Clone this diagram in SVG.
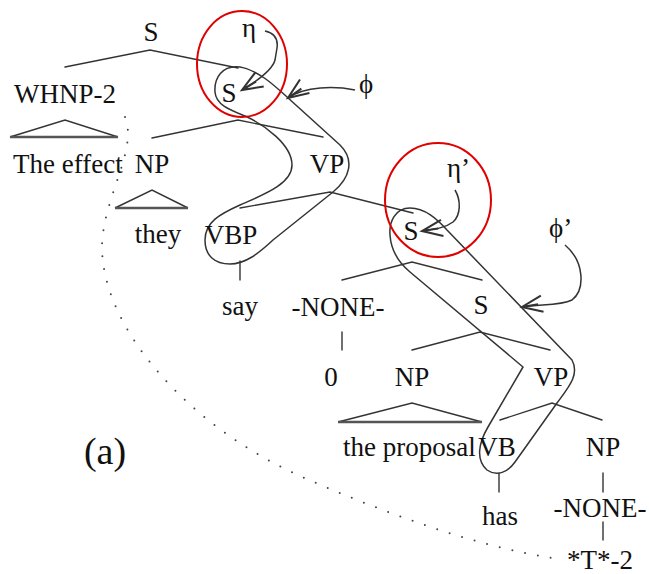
<svg xmlns="http://www.w3.org/2000/svg" width="649" height="574" viewBox="0 0 649 574">
  <style>
    .lbl { font-family: "Liberation Serif", "Times New Roman", serif; font-size: 27px; fill: #111; }
    .mid { text-anchor: middle; }
    .edge { fill: none; stroke: #333; stroke-width: 1.4; stroke-linecap: round; }
    .tri { fill: none; stroke: #333; stroke-width: 1.4; stroke-linejoin: miter; }
    .base { stroke: #555; stroke-width: 2.4; }
    .loop { fill: none; stroke: #333; stroke-width: 1.5; stroke-linejoin: round; }
    .ring { fill: none; stroke: #e00000; stroke-width: 2; }
    .link { fill: none; stroke: #333; stroke-width: 1.5; marker-end: url(#open); }
    .trace { fill: none; stroke: #444; stroke-width: 2; stroke-dasharray: 0 13; stroke-linecap: round; }
  </style>
  <defs>
    <marker id="open" markerUnits="userSpaceOnUse" markerWidth="30" markerHeight="30" viewBox="-20 -10 22 20" refX="0" refY="0" orient="auto" overflow="visible">
      <path d="M -15,-6 L 0,0 L -15,6 M -12,0 L 0,0" fill="none" stroke="#333" stroke-width="1.5"/>
    </marker>
  </defs>

  <!-- tree branches -->
  <g id="connectors">
    <polyline class="edge" points="65,67 150,50 238,68"/>
    <polyline class="edge" points="152,138 238,120 323,137"/>
    <polyline class="edge" points="240,208 330,192 413,213"/>
    <polyline class="edge" points="342,280 412,262 482,280"/>
    <polyline class="edge" points="412,350 480,332 550,350"/>
    <polyline class="edge" points="500,420 552,403 602,420"/>
    <line class="edge" x1="240" y1="261" x2="240" y2="280"/>
    <line class="edge" x1="342" y1="332" x2="342" y2="350"/>
    <line class="edge" x1="499" y1="473" x2="499" y2="492"/>
    <line class="edge" x1="603" y1="473" x2="603" y2="492"/>
    <line class="edge" x1="603" y1="522" x2="603" y2="540"/>
    <!-- trace link from WHNP-2 to *T*-2 -->
    <path class="trace" d="M125,117 C138,150 104,195 102,245 C101,330 192,428 300,476 C380,511 470,545 552,558"/>
  </g>

  <!-- collapsed triangles -->
  <g id="tri-whnp">
    <polyline class="tri" points="10,137 65,120 118,137"/>
    <line class="tri base" x1="10" y1="137" x2="118" y2="137"/>
  </g>
  <g id="tri-they">
    <polyline class="tri" points="115,208 152,190 188,208"/>
    <line class="tri base" x1="115" y1="208" x2="188" y2="208"/>
  </g>
  <g id="tri-proposal">
    <polyline class="tri" points="338,422 412,403 482,422"/>
    <line class="tri base" x1="338" y1="422" x2="482" y2="422"/>
  </g>

  <!-- spine contours -->
  <g id="spine-1">
    <path class="loop" d="M240,67 C222,65 214,78 215,92 C216,105 230,110 245,116 C265,125 292,145 292,165 C292,185 260,196 240,205 C220,214 205,222 205,240 C205,256 215,264 230,264 C245,264 258,254 273,240 L333,192 C350,178 355,160 340,145 L287,97 C275,86 258,70 240,67 Z"/>
  </g>
  <g id="spine-2">
    <path class="loop" d="M410,208 C395,208 389,222 390,235 C391,250 398,262 410,272 L523,367 L488,427 C478,444 476,460 487,470 C497,477 508,472 515,462 L557,403 C568,388 580,375 572,360 L447,230 C437,219 425,208 410,208 Z"/>
  </g>

  <!-- nodes -->
  <g id="n-s-root"><text class="lbl mid" x="151" y="41">S</text></g>
  <g id="n-whnp"><text class="lbl" x="14" y="103">WHNP-2</text></g>
  <g id="n-the-effect"><text class="lbl" x="13" y="173">The effect</text></g>
  <g id="n-s1"><text class="lbl mid" x="229" y="102">S</text></g>
  <g id="n-np1"><text class="lbl mid" x="152" y="173">NP</text></g>
  <g id="n-vp1"><text class="lbl mid" x="327" y="173">VP</text></g>
  <g id="n-they"><text class="lbl mid" x="158" y="243">they</text></g>
  <g id="n-vbp"><text class="lbl mid" x="231" y="244">VBP</text></g>
  <g id="n-say"><text class="lbl mid" x="240" y="315">say</text></g>
  <g id="n-s2"><text class="lbl mid" x="411" y="240">S</text></g>
  <g id="n-none1"><text class="lbl mid" x="338" y="316">-NONE-</text></g>
  <g id="n-zero"><text class="lbl mid" x="331" y="386">0</text></g>
  <g id="n-s3"><text class="lbl mid" x="481" y="314">S</text></g>
  <g id="n-np2"><text class="lbl mid" x="412" y="386">NP</text></g>
  <g id="n-vp2"><text class="lbl mid" x="551" y="386">VP</text></g>
  <g id="n-proposal"><text class="lbl" x="343" y="456">the proposal</text></g>
  <g id="n-vb"><text class="lbl mid" x="497" y="456">VB</text></g>
  <g id="n-np3"><text class="lbl mid" x="603" y="456">NP</text></g>
  <g id="n-has"><text class="lbl mid" x="500" y="525">has</text></g>
  <g id="n-none2"><text class="lbl mid" x="600" y="517">-NONE-</text></g>
  <g id="n-trace"><text class="lbl mid" x="600" y="569">*T*-2</text></g>
  <g id="caption"><text class="lbl mid" x="105" y="464" style="font-size:38px">(a)</text></g>

  <!-- highlighted roots -->
  <g id="ring-1"><ellipse class="ring" cx="242" cy="64" rx="45" ry="53"/></g>
  <g id="ring-2"><ellipse class="ring" cx="438" cy="200" rx="53" ry="57"/></g>

  <!-- pointers -->
  <g id="eta">
    <text class="lbl" x="242" y="37">η</text>
    <path class="link" d="M265,31 Q279,34 277,48 L275,60 Q272,72 242,90"/>
  </g>
  <g id="phi">
    <text class="lbl" x="359" y="93">ϕ</text>
    <path class="link" d="M355,90 C335,86 305,86 288,98"/>
  </g>
  <g id="eta-prime">
    <text class="lbl" x="447" y="177">η’</text>
    <path class="link" d="M455,190 C461,200 461,215 453,222 C445,228 435,229 422,231"/>
  </g>
  <g id="phi-prime">
    <text class="lbl" x="549" y="237">ϕ’</text>
    <path class="link" d="M565,245 C585,262 585,290 572,300 C560,306 540,304 522,307"/>
  </g>
</svg>
